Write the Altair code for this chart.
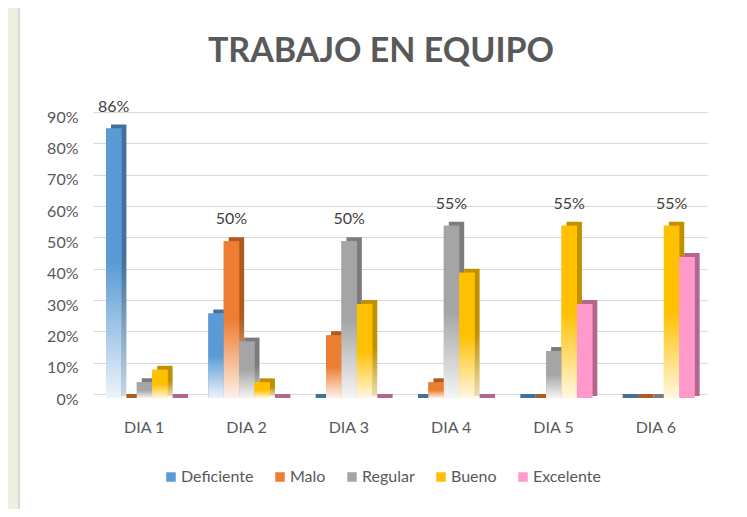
import altair as alt
import pandas as pd

# ---- data ----
days = ["DIA 1", "DIA 2", "DIA 3", "DIA 4", "DIA 5", "DIA 6"]
series = ["Deficiente", "Malo", "Regular", "Bueno", "Excelente"]
deficiente = [0.86, 0.27, 0.00, 0.00, 0.00, 0.00]
malo = [0.00, 0.50, 0.20, 0.05, 0.00, 0.00]
regular = [0.05, 0.18, 0.50, 0.55, 0.15, 0.00]
bueno = [0.09, 0.05, 0.30, 0.40, 0.55, 0.55]
excelente = [0.00, 0.00, 0.00, 0.00, 0.30, 0.45]

front_colors = ["#5B9BD5", "#ED7D31", "#A5A5A5", "#FFC000", "#FF99CC"]
side_colors = ["#41719C", "#AE5A21", "#7C7C7C", "#BF9000", "#B3668F"]
fade_front = ["#EDF4FB", "#FDF1E9", "#F5F5F5", "#FFF8E1", "#FF99CC"]
fade_side = ["#C9D6E3", "#E9D3C5", "#DADADA", "#EADFB8", "#B3668F"]

FONT = "Lato"
TXT = "#595959"

values = [deficiente, malo, regular, bueno, excelente]
rows = []
for s, vals in zip(series, values):
    for d, v in zip(days, vals):
        rows.append({"day": d, "serie": s, "value": v, "zero": 0.0})
df = pd.DataFrame(rows)
tops = df.loc[df.groupby("day")["value"].idxmax()].reset_index(drop=True)

W, H = 614, 282
PAD = {"left": 85, "top": 104, "right": 32, "bottom": 115}

x_axis = alt.Axis(labelFont=FONT, labelFontSize=16, labelColor=TXT, ticks=False,
                  domain=False, labelPadding=25, labelAngle=0, grid=False)
y_axis = alt.Axis(labelFont=FONT, labelFontSize=16, labelColor=TXT, ticks=False,
                  domain=False, format=".0%", values=[i / 10 for i in range(10)],
                  gridColor="#D9D9D9", gridWidth=1, labelPadding=15, labelOffset=5)

X = alt.X("day:N", sort=days, title=None,
          scale=alt.Scale(domain=days, paddingInner=0, paddingOuter=0), axis=x_axis)
Y = alt.Y("value:Q", title=None, stack=None,
          scale=alt.Scale(domain=[0, 0.9], nice=False, zero=True), axis=y_axis)
Y2 = alt.Y2("zero:Q")


def XO(rng):
    return alt.XOffset("serie:N", sort=series,
                       scale=alt.Scale(domain=series, range=rng, paddingInner=0, paddingOuter=0))


FRONT = [13, 90]
BACK = [18, 95]
SLOT = (FRONT[1] - FRONT[0]) / len(series)
TEXT_RANGE = [FRONT[0] + SLOT / 2, FRONT[1] - SLOT / 2]


def grad(top, bottom):
    return {"gradient": "linear", "x1": 0, "y1": 0, "x2": 0, "y2": 1,
            "stops": [{"offset": 0, "color": top}, {"offset": 0.5, "color": top},
                      {"offset": 1, "color": bottom}]}


one = pd.DataFrame({"a": [0]})
green = alt.Chart(one).mark_rect(color="#EBF1DE").encode(
    x=alt.value(-85), x2=alt.value(-75), y=alt.value(-104), y2=alt.value(H + 115))
edge = alt.Chart(one).mark_rect(color="#D9D9D9").encode(
    x=alt.value(-75), x2=alt.value(-73), y=alt.value(-104), y2=alt.value(H + 115))

layers = [green, edge]

# depth (top + side faces)
for i, s in enumerate(series):
    sub = df[(df.serie == s) & (df.value > 0)]
    layers.append(
        alt.Chart(sub).mark_bar(color=grad(side_colors[i], fade_side[i]), y2Offset=2)
        .encode(x=X, xOffset=XO(BACK), y=Y, y2=Y2)
    )

# flat slabs for zero values
zeros = df[df.value == 0]
layers.append(
    alt.Chart(zeros).mark_bar(y2Offset=4).encode(
        x=X, xOffset=XO(BACK), y=Y, y2=Y2,
        color=alt.Color("serie:N", scale=alt.Scale(domain=series, range=side_colors), legend=None))
)

# solid base (gives the legend), hidden under the gradient faces
layers.append(
    alt.Chart(df[df.value > 0]).mark_bar(yOffset=4, y2Offset=4).encode(
        x=X, xOffset=XO(FRONT), y=Y, y2=Y2,
        color=alt.Color("serie:N", sort=series,
                        scale=alt.Scale(domain=series, range=front_colors),
                        legend=alt.Legend(orient="none", legendX=70, legendY=357,
                                          direction="horizontal", title=None,
                                          symbolType="square", symbolSize=90,
                                          labelFont=FONT, labelFontSize=16,
                                          labelColor=TXT, columnPadding=18,
                                          labelOffset=2, symbolStrokeWidth=0)))
)

# front faces
for i, s in enumerate(series):
    sub = df[(df.serie == s) & (df.value > 0)]
    layers.append(
        alt.Chart(sub).mark_bar(color=grad(front_colors[i], fade_front[i]), yOffset=4, y2Offset=4)
        .encode(x=X, xOffset=XO(FRONT), y=Y, y2=Y2)
    )

# value labels on the tallest bar of each day
layers.append(
    alt.Chart(tops).mark_text(font=FONT, fontSize=16, color="#404040", dy=-18,
                              baseline="middle")
    .encode(x=X,
            xOffset=alt.XOffset("serie:N", sort=series,
                                scale=alt.Scale(type="point", domain=series,
                                                range=TEXT_RANGE, padding=0)),
            y=Y, text=alt.Text("value:Q", format=".0%"))
)

chart = (
    alt.layer(*layers)
    .resolve_scale(xOffset="independent", color="independent")
    .properties(
        width=W, height=H,
        autosize=alt.AutoSizeParams(type="none"),
        padding=PAD,
        background="white",
        title=alt.TitleParams("TRABAJO EN EQUIPO", font=FONT, fontSize=34, fontWeight="bold",
                              color=TXT, anchor="middle", dx=-19, offset=-61),
    )
    .configure_view(stroke=None)
)

chart.save("out.html", embed_options={"renderer": "svg", "actions": False})
